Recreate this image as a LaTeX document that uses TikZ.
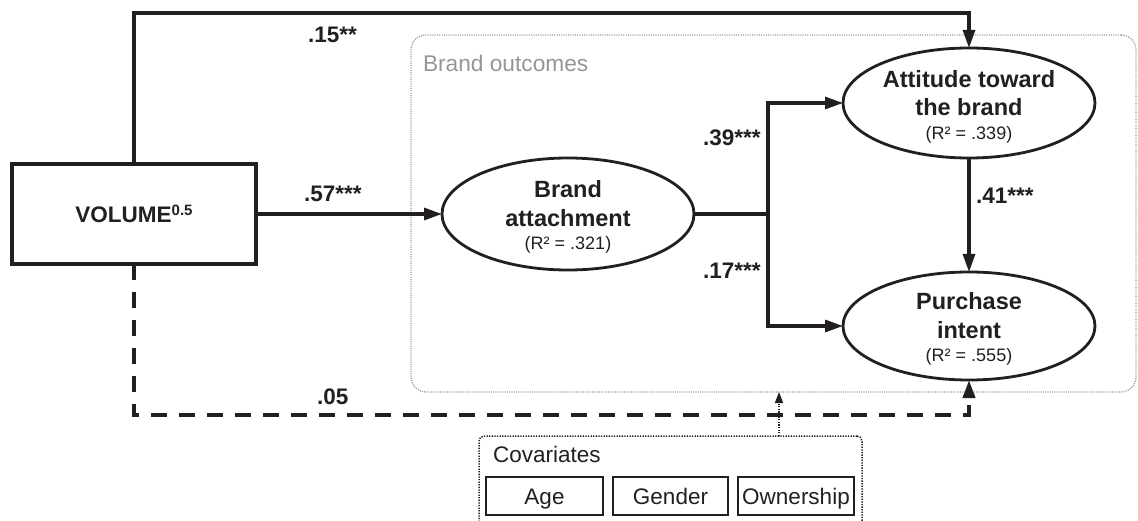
\documentclass[tikz,border=0pt]{standalone}
\usepackage{fontspec}
\setmainfont{Liberation Sans}
\usetikzlibrary{arrows.meta,shapes.geometric}
\definecolor{ink}{RGB}{35,31,32}
\definecolor{grayline}{RGB}{150,150,150}
\begin{document}
\begin{tikzpicture}[x=1pt,y=-1pt,
  every node/.style={inner sep=0pt, outer sep=0pt, text=ink},
  conn/.style={draw=ink, line width=3.2pt},
  arr/.style={conn, -{Triangle[length=18pt,width=12pt]}},
  latent/.style={ellipse, draw=ink, line width=2.8pt, minimum width=252pt, minimum height=110pt},
  lbl/.style={font=\fontsize{22.5}{27}\selectfont\bfseries, anchor=base west},
  ltxt/.style={font=\fontsize{23.5}{27}\selectfont\bfseries, anchor=base},
  rtxt/.style={font=\fontsize{18}{20}\selectfont, anchor=base},
  covbox/.style={draw=ink, line width=1.5pt, minimum height=38pt, text height=16pt, text depth=0pt, font=\fontsize{22.5}{27}\selectfont},
  dotblack/.style={draw=ink, line width=1.5pt, dash pattern=on 1.3pt off 1.3pt},
]
\useasboundingbox (0,0) rectangle (1138,521);
\clip (0,0) rectangle (1138,521);
\fill[white] (0,0) rectangle (1138,521);

% brand outcomes frame
\node[draw=grayline, line width=1.3pt, dash pattern=on 1pt off 1.3pt, rounded corners=15pt,
      minimum width=725pt, minimum height=357pt] (bo) at (773.5,213.5) {};
\node[font=\fontsize{22.7}{27}\selectfont, text=grayline, anchor=base west] (botxt) at (423,72) {Brand outcomes};

% volume box
\node[draw=ink, line width=3.2pt, minimum width=244pt, minimum height=100pt,
      font=\fontsize{22.5}{27}\selectfont\bfseries] (vol) at (134,214)
      {VOLUME\raisebox{7pt}{\fontsize{15}{15}\selectfont 0.5}};

% latent variables
\node[latent, minimum height=112pt] (ba) at (568,214) {};
\node[latent] (att) at (969,103) {};
\node[latent, minimum height=108pt] (pur) at (969,326) {};

\node[ltxt] (ba1) at (568,198) {Brand};
\node[ltxt] (ba2) at (568,227) {attachment};
\node[rtxt] (ba3) at (568,250) {(R² = .321)};

\node[ltxt] (att1) at (969,88) {Attitude toward};
\node[ltxt] (att2) at (969,116) {the brand};
\node[rtxt] (att3) at (969,140) {(R² = .339)};

\node[ltxt] (pur1) at (969,310) {Purchase};
\node[ltxt] (pur2) at (969,338) {intent};
\node[rtxt] (pur3) at (969,362) {(R² = .555)};

% connectors
\draw[arr] (vol.east) -- (ba.west);
\coordinate (j) at (768,214);
\draw[conn] (ba.east) -- (j);
\draw[arr] (j) |- (att.west);
\draw[arr] (j) |- (pur.west);
\draw[arr] (att.south) -- (pur.north);
\coordinate (tl) at (134,13);
\draw[arr] (vol.north) -- (tl) -| (att.north);
\coordinate (bl) at (134,415);
\draw[arr, line width=3.8pt, dash pattern=on 16pt off 12pt] (vol.south) -- (bl) -| (pur.south);

% coefficients
\node[lbl] (l15) at (308,43) {.15**};
\node[lbl] (l57) at (304,202) {.57***};
\node[lbl] (l39) at (703,146) {.39***};
\node[lbl] (l17) at (703,279) {.17***};
\node[lbl] (l41) at (976,204) {.41***};
\node[lbl] (l05) at (317,404) {.05};

% covariates
\node[dotblack, rounded corners=5pt, minimum width=383pt, minimum height=110pt, anchor=north] (cov) at (670.5,436) {};
\node[anchor=base west, font=\fontsize{22.5}{27}\selectfont] (covt) at (493,462) {Covariates};
\node[covbox, minimum width=117pt] (age) at (544.5,496) {Age};
\node[covbox, minimum width=115pt] (gen) at (670.5,496) {Gender};
\node[covbox, minimum width=116pt] (own) at (796,496) {Ownership};

\coordinate (ca) at (779,436);
\draw[dotblack, -{Triangle[length=11pt,width=8pt]}] (ca) -- (ca |- bo.south);
\end{tikzpicture}
\end{document}
